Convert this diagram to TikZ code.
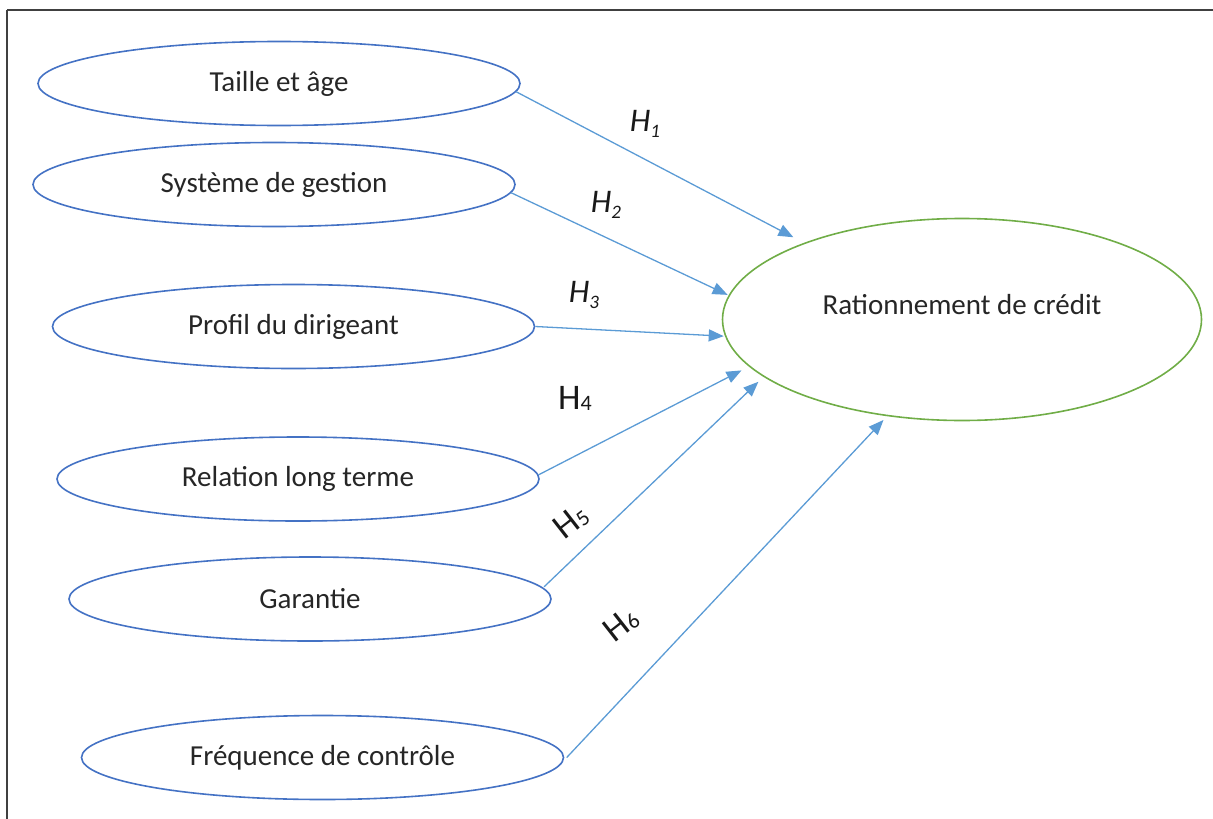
\documentclass[tikz,border=0pt]{standalone}
\usepackage{fontspec}
\setmainfont{Carlito}
\usetikzlibrary{shapes.geometric,arrows.meta,calc}
\definecolor{ellblue}{HTML}{4472C4}
\definecolor{arrblue}{HTML}{5B9BD5}
\definecolor{ellgreen}{HTML}{70AD47}
\definecolor{frame}{HTML}{404040}
\tikzset{
  ell/.style={ellipse, draw=ellblue, line width=1.6pt, inner sep=0pt,
    minimum width=482pt, minimum height=84pt,
    font=\fontsize{29}{34}\selectfont, text=black!85},
  bigell/.style={ellipse, draw=ellgreen, line width=1.6pt, inner sep=0pt,
    minimum width=479pt, minimum height=202pt},
  lbl/.style={font=\fontsize{29}{34}\selectfont, text=black!85, inner sep=0pt},
  arr/.style={draw=arrblue, line width=1.3pt, -{Triangle[length=15pt,width=12pt]}},
  hyp/.style={inner sep=0pt, text=black!90}
}
\newcommand{\hit}[1]{{\fontsize{33}{36}\selectfont\itshape H\raisebox{-6pt}{\fontsize{19}{22}\selectfont #1}}}
\newcommand{\hup}[1]{{\fontsize{36}{40}\selectfont H\raisebox{-1pt}{\fontsize{22}{24}\selectfont #1}}}
\begin{document}
\begin{tikzpicture}[x=1pt,y=-1pt]
\useasboundingbox (0,0) rectangle (1213,819);
% frame (top and left edges visible)
\draw[frame, line width=2.2pt] (7,10) -- (1213,10);
\draw[frame, line width=2.2pt] (7,10) -- (7,819);
% ellipses
\node[ell] (T) at (279,83.5) {Taille et âge};
\node[ell] (S) at (274,184.5) {Système de gestion};
\node[ell] (P) at (293.5,326.5) {Profil du dirigeant};
\node[ell] (L) at (298,479) {Relation long terme};
\node[ell] (G) at (310,599) {Garantie};
\node[ell] (F) at (322.5,757.5) {Fréquence de contrôle};
\node[bigell] (R) at (962,319.5) {};
\node[lbl] (Rt) at (962,305) {Rationnement de crédit};
% arrows
\draw[arr] (T.-2) -- ($(R.center)!1.07!(R.154)$);
\draw[arr] (S.-2) -- ($(R.center)!1.005!(R.174.4)$);
\draw[arr] (P.east) -- ($(R.center)!1.005!(R.184.6)$);
\draw[arr] (L.1) -- ($(R.center)!1.045!(R.193)$);
\draw[arr] ($(G.center)!1.01!(G.3)$) -- ($(R.center)!1.045!(R.197)$);
\draw[arr] ($(F.center)!1.01!(F.east)$) -- ($(R.center)!1.04!(R.232)$);
% hypothesis labels
\node[hyp] (h1) at (645,124) {\hit{1}};
\node[hyp] (h2) at (606,205) {\hit{2}};
\node[hyp] (h3) at (584,295) {\hit{3}};
\node[hyp] (h4) at (575,398) {\hup{4}};
\node[hyp, rotate=38] (h5) at (571,522) {\hup{5}};
\node[hyp, rotate=38] (h6) at (621,625) {\hup{6}};
\end{tikzpicture}
\end{document}
